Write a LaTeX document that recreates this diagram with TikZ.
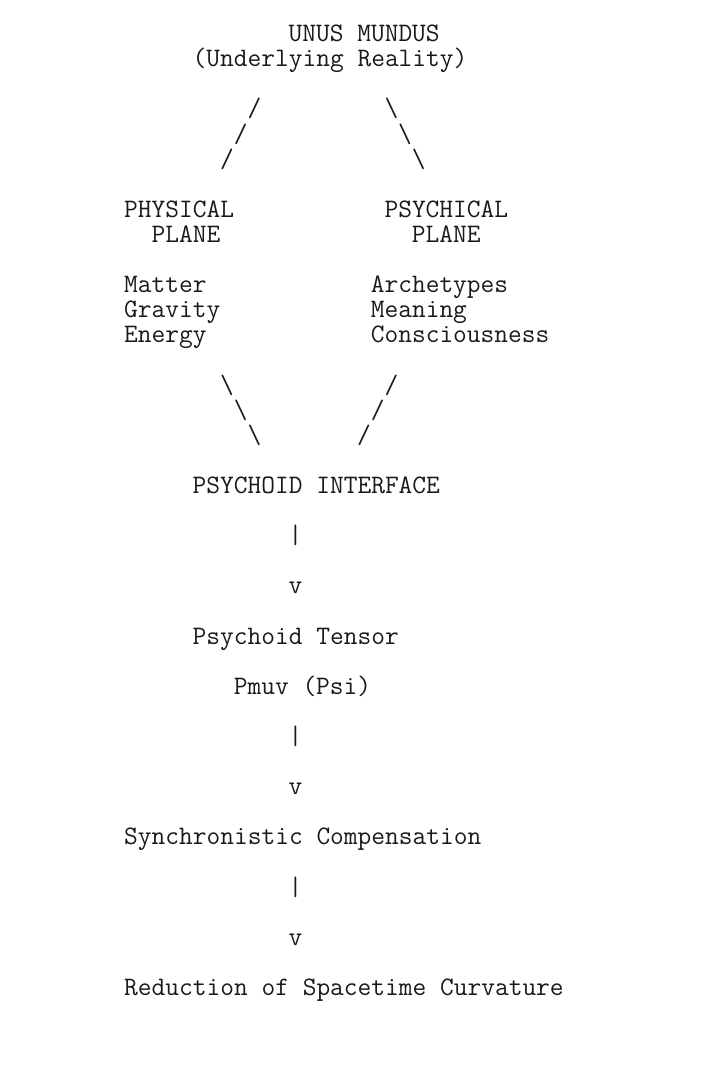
\documentclass[tikz,border=0pt]{standalone}
\usepackage{fontspec}

\begin{document}
\begin{tikzpicture}[x=10.275pt,y=-18.825pt,txt/.style={anchor=base west,inner sep=0pt,font=\ttfamily\fontsize{20pt}{18.8pt}\selectfont,text=black!90}]
\useasboundingbox (-9.05,-1.66) rectangle (42.92,41.13);
% top
\node[txt] (unus) at (12,0) {UNUS MUNDUS};
\node[txt] (real) at (5,1) {(Underlying Reality)};
\node[txt] (la1) at (9,3) {/};\node[txt] (la2) at (8,4) {/};\node[txt] (la3) at (7,5) {/};
\node[txt] (ra1) at (19,3) {\textbackslash};\node[txt] (ra2) at (20,4) {\textbackslash};\node[txt] (ra3) at (21,5) {\textbackslash};
% two planes
\node[txt] (phys) at (0,7) {PHYSICAL};\node[txt] (physp) at (2,8) {PLANE};
\node[txt] (psyc) at (19,7) {PSYCHICAL};\node[txt] (psycp) at (21,8) {PLANE};
\node[txt] (matter) at (0,10) {Matter};\node[txt] (grav) at (0,11) {Gravity};\node[txt] (energy) at (0,12) {Energy};
\node[txt] (arch) at (18,10) {Archetypes};\node[txt] (mean) at (18,11) {Meaning};\node[txt] (consc) at (18,12) {Consciousness};
\node[txt] (lb1) at (7,14) {\textbackslash};\node[txt] (lb2) at (8,15) {\textbackslash};\node[txt] (lb3) at (9,16) {\textbackslash};
\node[txt] (rb1) at (19,14) {/};\node[txt] (rb2) at (18,15) {/};\node[txt] (rb3) at (17,16) {/};
% chain
\node[txt] (iface) at (5,18) {PSYCHOID INTERFACE};
\node[txt] (bar1) at (12,20) {|};\node[txt] (v1) at (12,22) {v};
\node[txt] (tens) at (5,24) {Psychoid Tensor};
\node[txt] (pmuv) at (8,26) {Pmuv (Psi)};
\node[txt] (bar2) at (12,28) {|};\node[txt] (v2) at (12,30) {v};
\node[txt] (sync) at (0,32) {Synchronistic Compensation};
\node[txt] (bar3) at (12,34) {|};\node[txt] (v3) at (12,36) {v};
\node[txt] (reduc) at (0,38) {Reduction of Spacetime Curvature};
\end{tikzpicture}
\end{document}
